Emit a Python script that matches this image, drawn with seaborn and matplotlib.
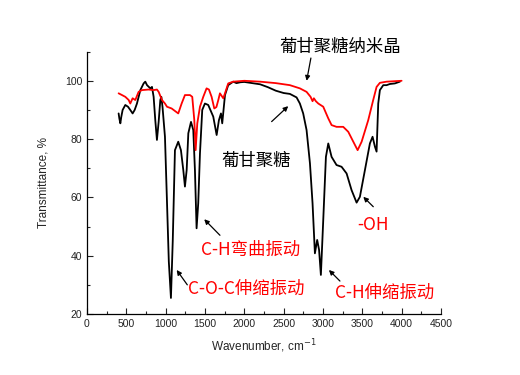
import numpy as np
import pandas as pd
import seaborn as sns
import matplotlib.pyplot as plt
from matplotlib.ticker import MultipleLocator

# 葡甘聚糖 (black)
wn_kgm = [402, 411, 424, 435, 453, 487, 521, 550, 580, 606, 635, 678, 720, 741, 763,
          805, 826, 847, 868, 889, 911, 932, 945, 960, 991, 1015, 1040, 1067, 1090,
          1118, 1160, 1194, 1224, 1245, 1267, 1288, 1322, 1351, 1372, 1393, 1414,
          1436, 1465, 1499, 1541, 1605, 1648, 1677, 1703, 1719, 1754, 1795, 1859,
          1900, 1950, 2000, 2100, 2200, 2300, 2400, 2500, 2579, 2664, 2706, 2748,
          2791, 2834, 2867, 2897, 2926, 2950, 2973, 3003, 3037, 3067, 3109, 3172,
          3236, 3300, 3363, 3427, 3469, 3533, 3596, 3630, 3660, 3681, 3702, 3723,
          3766, 3808, 3850, 3914, 3977]
tr_kgm = [88.8, 87.1, 85.4, 87.5, 90.0, 91.7, 91.1, 90.0, 88.8, 90.0, 92.2, 96.8,
          99.1, 99.7, 98.5, 97.4, 97.9, 94.5, 86.5, 79.7, 86.0, 93.4, 94.5, 91.0,
          80.8, 60.0, 38.0, 25.5, 45.0, 76.2, 79.1, 76.2, 69.4, 63.7, 69.4, 82.0,
          85.9, 83.1, 69.4, 49.4, 58.0, 75.1, 90.0, 92.2, 91.7, 87.7, 81.4, 86.5,
          88.8, 85.4, 95.1, 98.5, 99.7, 99.2, 99.5, 99.6, 99.2, 98.8, 97.8, 96.6,
          95.8, 95.5, 94.3, 92.2, 88.8, 83.1, 71.7, 58.0, 40.8, 45.4, 42.0, 33.4,
          52.2, 73.9, 78.5, 73.9, 71.1, 70.5, 68.2, 62.5, 58.2, 60.2, 69.4, 78.5,
          80.8, 77.4, 75.7, 92.2, 96.8, 98.5, 98.5, 98.9, 99.1, 99.7]

# 葡甘聚糖纳米晶 (red)
wn_nano = [402, 445, 487, 530, 550, 580, 614, 656, 699, 783, 847, 889, 911, 953,
           991, 1017, 1076, 1160, 1203, 1245, 1309, 1338, 1364, 1381, 1402, 1436,
           1478, 1520, 1550, 1584, 1618, 1645, 1669, 1690, 1732, 1754, 1795, 1859,
           2000, 2200, 2400, 2579, 2706, 2791, 2842, 2867, 2884, 2909, 2940, 3003,
           3067, 3109, 3172, 3257, 3321, 3385, 3440, 3491, 3575, 3638, 3681, 3723,
           3808, 3999]
tr_nano = [95.7, 95.1, 94.5, 93.4, 92.2, 94.0, 93.4, 96.2, 96.8, 97.0, 96.8, 97.0,
           96.2, 93.4, 92.2, 91.1, 90.5, 88.8, 92.2, 95.1, 95.1, 94.5, 86.5, 76.2,
           85.4, 91.1, 94.5, 97.4, 97.0, 94.5, 90.5, 91.0, 93.4, 95.7, 94.0, 95.7,
           99.1, 99.7, 100.0, 99.7, 99.2, 98.5, 97.4, 96.2, 94.5, 93.0, 94.0, 93.0,
           92.2, 91.1, 87.1, 84.8, 84.2, 84.2, 82.5, 79.1, 76.2, 79.1, 86.5, 93.4,
           97.9, 99.3, 99.7, 100.0]

# annotations: text, text position, arrow tail, arrow tip, colour
notes = [
    ("葡甘聚糖纳米晶", (2452, 111.7), (2846, 107.8), (2792, 100.0), "black"),
    ("葡甘聚糖", (1712, 72.6), (2347, 86.0), (2558, 91.3), "black"),
    ("C-H弯曲振动", (1445, 41.9), (1690, 47.0), (1490, 52.5), "red"),
    ("C-O-C伸缩振动", (1287, 28.8), (1275, 30.0), (1140, 35.1), "red"),
    ("-OH", (3435, 50.5), (3639, 56.8), (3512, 60.2), "red"),
    ("C-H伸缩振动", (3151, 27.4), (3215, 31.3), (3075, 35.1), "red"),
]

sns.set_style("ticks", {"xtick.direction": "in", "ytick.direction": "in"})
plt.rcParams["font.family"] = ["Liberation Sans", "DejaVu Sans"]

fig = plt.figure(figsize=(5.2, 3.75), dpi=100)
ax = fig.add_axes([0.1673, 0.1627, 0.6808, 0.6996])

sns.lineplot(x=wn_kgm, y=tr_kgm, sort=False, color="black", lw=1.3, ax=ax)
sns.lineplot(x=wn_nano, y=tr_nano, sort=False, color="red", lw=1.3, ax=ax)

ax.set_xlim(0, 4500)
ax.set_ylim(20, 110)
ax.xaxis.set_major_locator(MultipleLocator(500))
ax.xaxis.set_minor_locator(MultipleLocator(250))
ax.set_yticks([20, 40, 60, 80, 100])
ax.yaxis.set_minor_locator(MultipleLocator(10))
ax.tick_params(which="major", length=4, width=0.8, labelsize=7.5, colors="#222222")
ax.tick_params(which="minor", length=2, width=0.8)
sns.despine(ax=ax)
for s in ["left", "bottom"]:
    ax.spines[s].set_linewidth(0.9)
    ax.spines[s].set_color("black")

ax.set_xlabel("Wavenumber, cm$^{-1}$", fontsize=8.5, labelpad=6)
ax.set_ylabel("Transmittance, %", fontsize=8.5, labelpad=11)

cjk = ["Noto Sans CJK SC", "DejaVu Sans"]
for txt, pos, tail, tip, col in notes:
    ax.text(pos[0], pos[1], txt, color=col, fontsize=12.5, family=cjk,
            ha="left", va="center", clip_on=False)
    ax.annotate("", xy=tip, xytext=tail, annotation_clip=False,
                arrowprops=dict(arrowstyle="-|>", color="black", lw=0.9,
                                mutation_scale=7, shrinkA=0, shrinkB=0))

fig.savefig("out.png", dpi=100)
